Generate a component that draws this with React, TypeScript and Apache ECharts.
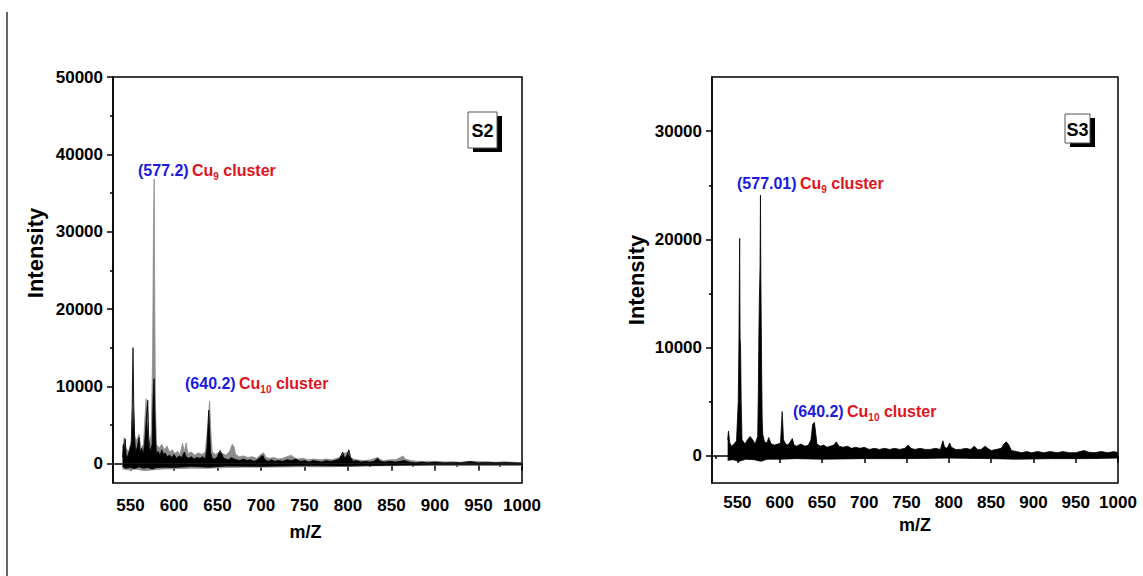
import React, { useEffect, useRef } from "react";
import * as echarts from "echarts";

// ---------- data (m/z, intensity) ----------
// S2 panel: black trace, upper envelope
const s2BlackUpper: [number, number][] = [
  [541, 800], [542, 2500], [543, 1500], [544, 3200], [545, 1200], [547, 900], [549, 1800], [551, 2500],
  [552, 7500], [553, 15000], [553.8, 8000], [555, 3000], [556, 1500], [558, 2200], [560, 3400], [561, 1500],
  [563, 2000], [565, 1200], [567, 3500], [569, 7000], [570, 8200], [571, 3500], [573, 1500], [575, 2500],
  [576, 8000], [577.2, 11000], [578, 7000], [579, 3000], [580, 1200], [582, 1600], [584, 1000], [586, 1800],
  [588, 1200], [590, 1400], [592, 900], [595, 1100], [598, 800], [600, 1200], [603, 700], [606, 1000],
  [609, 800], [612, 1500], [614, 900], [617, 700], [620, 900], [623, 600], [626, 800], [630, 700],
  [633, 900], [636, 600], [638, 2000], [640, 6900], [641, 4500], [642, 1500], [644, 700], [647, 600],
  [650, 900], [653, 1700], [655, 1300], [657, 700], [660, 600], [663, 500], [666, 800], [669, 600],
  [672, 500], [676, 400], [680, 600], [684, 400], [688, 500], [692, 300], [696, 500], [700, 900],
  [702, 1100], [704, 600], [708, 300], [712, 500], [716, 300], [720, 400], [725, 300], [730, 500],
  [735, 400], [740, 600], [745, 300], [750, 400], [755, 200], [760, 400], [765, 300], [770, 200],
  [775, 400], [780, 300], [785, 400], [790, 600], [794, 1500], [796, 700], [799, 1100], [801, 1800],
  [803, 800], [806, 300], [810, 400], [815, 200], [820, 300], [825, 200], [830, 300], [834, 700],
  [837, 300], [842, 200], [848, 300], [855, 200], [860, 300], [865, 400], [870, 200], [878, 100],
  [885, 200], [892, 100], [900, 200], [910, 100], [920, 200], [930, 100], [940, 300], [950, 100],
  [960, 200], [970, 100], [980, 200], [990, 100], [1000, 100],
];
// S2 panel: black trace, lower envelope
const s2BlackLower: [number, number][] = [
  [541, -400], [545, -600], [550, -500], [555, -650], [560, -400], [565, -600], [570, -500], [575, -700],
  [580, -500], [590, -450], [600, -500], [620, -350], [640, -450], [660, -300], [700, -350], [750, -250],
  [800, -300], [850, -200], [900, -150], [950, -150], [1000, -150],
];
// S2 panel: grey trace, upper envelope
const s2GreyUpper: [number, number][] = [
  [541, 2000], [543, 3400], [545, 2000], [548, 1500], [551, 3000], [553, 9000], [555, 3500], [557, 3000],
  [560, 3800], [562, 2000], [565, 2500], [568, 8400], [570, 5000], [572, 2000], [574, 4000], [575.5, 14000],
  [576.5, 30000], [577.3, 36800], [578, 20000], [578.8, 8000], [580, 2500], [583, 2000], [586, 2500],
  [589, 1800], [592, 2300], [595, 1500], [598, 1800], [601, 1300], [604, 1600], [607, 1200], [610, 2600],
  [612, 1500], [614, 2700], [616, 1300], [620, 1500], [624, 1100], [628, 1400], [632, 1200], [636, 1500],
  [639, 5000], [641, 8100], [642.5, 4000], [644, 1500], [648, 1200], [652, 1500], [656, 1300], [660, 1100],
  [664, 1600], [667, 2500], [669, 2200], [671, 1200], [675, 900], [680, 1000], [685, 800], [690, 900],
  [695, 700], [700, 1200], [703, 1400], [706, 800], [710, 700], [715, 800], [720, 600], [725, 700],
  [730, 900], [735, 1100], [738, 800], [742, 600], [748, 700], [755, 500], [760, 600], [768, 500],
  [775, 600], [782, 500], [790, 800], [795, 1300], [800, 1500], [804, 700], [810, 500], [818, 400],
  [826, 500], [834, 800], [840, 400], [848, 500], [855, 500], [860, 800], [863, 1000], [866, 600],
  [872, 400], [880, 300], [890, 300], [900, 300], [915, 200], [930, 200], [945, 300], [960, 200],
  [975, 200], [990, 200], [1000, 100],
];
// S2 panel: grey trace, lower envelope
const s2GreyLower: [number, number][] = [
  [541, -700], [548, -800], [556, -700], [566, -900], [576, -800], [586, -700], [600, -650], [620, -600],
  [640, -600], [660, -500], [680, -450], [700, -450], [740, -400], [780, -400], [820, -300], [860, -250],
  [900, -200], [950, -200], [1000, -200],
];
// S3 panel: black trace, upper envelope
const s3Upper: [number, number][] = [
  [538.5, 1500], [539.5, 2300], [541, 1200], [543, 900], [546, 1100], [549, 1400], [551, 5000],
  [551.8, 10000], [552.7, 20100], [553.2, 11000], [553.8, 10000], [554.5, 5000], [555.5, 1500], [559, 1100],
  [562, 1500], [565, 1800], [568, 1500], [571, 1100], [574, 1800], [574.8, 6000], [575.4, 11000],
  [576, 14500], [576.8, 17500], [577.3, 24100], [577.7, 17000], [578.2, 12500], [578.7, 8000], [579.3, 3500],
  [580, 2000], [582, 1300], [585, 1200], [587, 1700], [590, 1100], [594, 1000], [598, 1100],
  [601, 1200], [603, 4100], [604.5, 1500], [607, 1100], [610, 1000], [615, 1600], [617, 1000], [620, 900],
  [625, 1100], [630, 900], [634, 1000], [637, 1500], [639, 2900], [641, 3100], [642.5, 2200], [644, 1100],
  [648, 900], [652, 1000], [656, 800], [660, 900], [664, 1000], [667, 1300], [670, 900], [675, 800],
  [680, 900], [685, 700], [690, 800], [695, 700], [700, 800], [706, 600], [712, 700], [718, 600],
  [724, 700], [730, 600], [736, 700], [742, 600], [748, 700], [752, 1000], [755, 700], [760, 600],
  [766, 700], [772, 600], [778, 600], [784, 700], [790, 600], [793, 1400], [795, 800], [798, 700],
  [801, 1200], [803, 800], [808, 600], [814, 600], [820, 700], [826, 600], [830, 900], [834, 600],
  [838, 600], [843, 900], [846, 700], [850, 500], [856, 600], [862, 700], [865, 1100], [868, 1300],
  [871, 1000], [874, 500], [880, 400], [886, 300], [892, 400], [898, 300], [905, 400], [912, 300],
  [920, 400], [928, 300], [935, 400], [942, 300], [950, 300], [955, 400], [960, 500], [965, 350],
  [972, 300], [980, 400], [988, 300], [995, 400], [1000, 300],
];
// S3 panel: black trace, lower envelope
const s3Lower: [number, number][] = [
  [538.5, -400], [545, -350], [552, -500], [560, -300], [570, -350], [578, -500], [585, -300], [600, -300],
  [620, -250], [650, -300], [700, -250], [750, -250], [800, -200], [850, -250], [880, -300], [920, -250],
  [960, -250], [1000, -200],
];

// ---------- axes ticks / labels ----------
const xLabels = [550, 600, 650, 700, 750, 800, 850, 900, 950, 1000];
const xMinorS2 = [575, 625, 675, 725, 775, 825, 875, 925, 975];
const xMinorS3 = [525, 575, 625, 675, 725, 775, 825, 875, 925, 975];
const yLabelsS2 = [0, 10000, 20000, 30000, 40000, 50000];
const yMinorS2 = [5000, 15000, 25000, 35000, 45000];
const yLabelsS3 = [0, 10000, 20000, 30000];
const yMinorS3 = [5000, 15000, 25000];

const FONT = "'Liberation Sans', Arial, sans-serif";

export default function App() {
  const ref = useRef<HTMLDivElement>(null);
  useEffect(() => {
    if (!ref.current) return;
    const chart = echarts.init(ref.current, undefined, { renderer: "svg" });

    const lbl = { fontFamily: FONT, fontWeight: "bold", fontSize: 17, color: "#000", formatter: (v: number) => String(v) };
    const line = { show: true, lineStyle: { color: "#000", width: 1.5 } };

    const xMajor = (gridIndex: number, min: number, margin: number, name: string, namePad: number[]) => ({
      type: "value", gridIndex, min, max: 1000, position: "bottom",
      axisLine: line,
      splitLine: { show: false },
      axisTick: { show: true, length: 7, lineStyle: { color: "#000", width: 1.5 }, customValues: xLabels },
      axisLabel: { ...lbl, margin, customValues: xLabels },
      name, nameLocation: "middle", nameGap: gridIndex === 0 ? 40 : 32,
      nameTextStyle: { fontFamily: FONT, fontWeight: "bold", fontSize: 18, color: "#000", padding: namePad },
    });
    const xMinor = (gridIndex: number, min: number, vals: number[]) => ({
      type: "value", gridIndex, min, max: 1000, position: "bottom",
      axisLine: { show: false }, splitLine: { show: false },
      axisTick: { show: true, length: 3, lineStyle: { color: "#000", width: 1.5 }, customValues: vals },
      axisLabel: { show: false },
    });
    const yMajor = (gridIndex: number, max: number, labels: number[], gap: number, pad: number[]) => ({
      type: "value", gridIndex, min: -2500, max, position: "left",
      axisLine: line, splitLine: { show: false },
      axisTick: { show: true, length: 6, lineStyle: { color: "#000", width: 1.5 }, customValues: labels },
      axisLabel: { ...lbl, margin: 10, customValues: labels },
      name: "Intensity", nameLocation: "middle", nameGap: gap, nameRotate: 90,
      nameTextStyle: { fontFamily: FONT, fontWeight: "bold", fontSize: 22, color: "#000", padding: pad },
    });
    const yMinor = (gridIndex: number, max: number, vals: number[]) => ({
      type: "value", gridIndex, min: -2500, max, position: "left",
      axisLine: { show: false }, splitLine: { show: false },
      axisTick: { show: true, length: 3, lineStyle: { color: "#000", width: 1.5 }, customValues: vals },
      axisLabel: { show: false },
    });

    const trace = (data: [number, number][], color: string, xi: number, yi: number) => ({
      type: "line", data, xAxisIndex: xi, yAxisIndex: yi, symbol: "none", showSymbol: false,
      lineStyle: { color, width: 0.8 }, areaStyle: { color, opacity: 1, origin: "auto" },
      itemStyle: { color }, silent: true,
    });

    const rich = {
      b: { fontFamily: FONT, fontWeight: "bold", fontSize: 16, fill: "#1a1ae0", lineHeight: 22 },
      r: { fontFamily: FONT, fontWeight: "bold", fontSize: 16, fill: "#e0141e", lineHeight: 22 },
      s: { fontFamily: FONT, fontWeight: "bold", fontSize: 10, fill: "#e0141e", lineHeight: 10, verticalAlign: "bottom" },
    };
    const annot = (x: number, y: number, mz: string, n: string) => ({
      type: "text", x, y,
      style: { text: `{b|(${mz})} {r|Cu}{s|${n}}{r| cluster}`, rich, align: "left", verticalAlign: "middle" },
    });
    const tag = (x: number, y: number, w: number, h: number, t: string) => ({
      type: "group",
      children: [
        { type: "rect", shape: { x: x + 5, y: y + 4, width: w, height: h }, style: { fill: "#000" } },
        { type: "rect", shape: { x, y, width: w, height: h }, style: { fill: "#fff", stroke: "#555", lineWidth: 1 } },
        { type: "text", x: x + w / 2, y: y + h / 2 + 1, style: { text: t, fontFamily: FONT, fontWeight: "bold", fontSize: 18, fill: "#000", align: "center", verticalAlign: "middle" } },
      ],
    });

    chart.setOption({
      animation: false,
      backgroundColor: "#fff",
      grid: [
        { left: 113, top: 77, width: 409, height: 406, show: true, borderColor: "#000", borderWidth: 1.5, backgroundColor: "transparent" },
        { left: 712, top: 77, width: 406, height: 406, show: true, borderColor: "#000", borderWidth: 1.5, backgroundColor: "transparent" },
      ],
      xAxis: [
        xMajor(0, 530, 14, "m/Z", [0, 24, 0, 0]),
        xMinor(0, 530, xMinorS2),
        xMajor(1, 520, 11, "m/Z", [0, 0, 0, 0]),
        xMinor(1, 520, xMinorS3),
      ],
      yAxis: [
        yMajor(0, 50000, yLabelsS2, 67, [0, 0, 0, 54]),
        yMinor(0, 50000, yMinorS2),
        yMajor(1, 35000, yLabelsS3, 65, [0, 0, 0, 0]),
        yMinor(1, 35000, yMinorS3),
      ],
      series: [
        trace(s2GreyUpper, "#8c8c8c", 0, 0),
        trace(s2GreyLower, "#8c8c8c", 0, 0),
        trace(s2BlackUpper, "#000", 0, 0),
        trace(s2BlackLower, "#000", 0, 0),
        trace(s3Upper, "#000", 2, 2),
        trace(s3Lower, "#000", 2, 2),
      ],
      graphic: [
        { type: "line", shape: { x1: 7, y1: 12, x2: 7, y2: 576 }, style: { stroke: "#000", lineWidth: 1.2 } },
        annot(138, 170, "577.2", "9"),
        annot(185, 383, "640.2", "10"),
        annot(737, 183, "577.01", "9"),
        annot(793, 411, "640.2", "10"),
        tag(468, 112, 29, 36, "S2"),
        tag(1065, 114, 25, 29, "S3"),
      ],
    });
    return () => chart.dispose();
  }, []);
  return <div ref={ref} style={{ position: "absolute", left: 0, top: 0, width: 1143, height: 576 }} />;
}
